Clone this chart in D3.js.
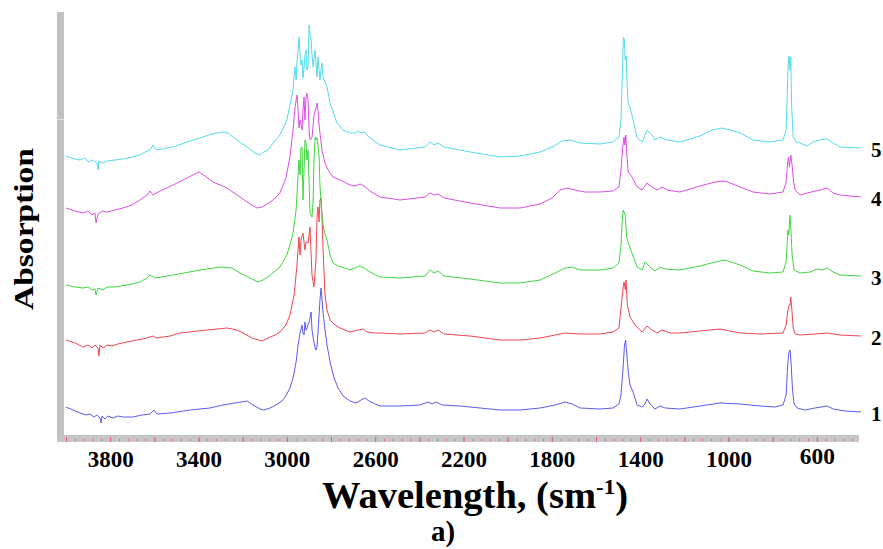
<!DOCTYPE html>
<html>
<head>
<meta charset="utf-8">
<script src="https://cdn.jsdelivr.net/npm/d3@7"></script>
<style>
  html, body { margin: 0; padding: 0; background: #fff; }
  svg { display: block; }
</style>
</head>
<body>
<svg id="chart" width="883" height="549"></svg>
<script>
// FTIR absorption spectra of five samples, 4000–400 cm-1.
// Each value already includes the vertical offset used to stack the traces.

const traceNames = ["1", "2", "3", "4", "5"];
const traceColors = ["#5b5bf0", "#ee4650", "#3fd63f", "#da4ee6", "#52dcea"];

const trace1 = [[4000,0.30],[3968,0.27],[3937,0.24],[3909,0.22],[3891,0.23],[3873,0.20],[3860,0.22],[3846,0.19],[3841,0.14],[3837,0.21],[3823,0.18],[3810,0.21],[3787,0.19],[3765,0.21],[3742,0.20],[3697,0.20],[3656,0.22],[3620,0.23],[3601,0.27],[3588,0.23],[3529,0.24],[3438,0.27],[3348,0.29],[3289,0.32],[3235,0.34],[3180,0.36],[3153,0.32],[3121,0.28],[3104,0.27],[3076,0.29],[3049,0.32],[3022,0.36],[3004,0.41],[2986,0.49],[2972,0.59],[2958,0.75],[2949,0.92],[2940,1.04],[2931,1.12],[2927,1.04],[2922,1.02],[2918,1.15],[2913,1.07],[2909,1.09],[2899,1.15],[2890,1.25],[2886,1.07],[2881,1.00],[2872,0.89],[2868,0.87],[2863,0.91],[2859,1.04],[2850,1.37],[2845,1.49],[2841,1.39],[2836,1.24],[2827,1.07],[2818,0.92],[2804,0.75],[2786,0.59],[2768,0.49],[2745,0.41],[2714,0.36],[2687,0.34],[2664,0.37],[2646,0.39],[2628,0.36],[2600,0.33],[2578,0.31],[2487,0.31],[2397,0.32],[2360,0.35],[2342,0.33],[2324,0.35],[2297,0.32],[2216,0.31],[2125,0.29],[2034,0.27],[1944,0.27],[1853,0.29],[1785,0.32],[1740,0.35],[1708,0.33],[1672,0.29],[1582,0.28],[1523,0.29],[1496,0.33],[1487,0.42],[1478,0.67],[1471,0.92],[1466,0.97],[1462,0.87],[1455,0.67],[1446,0.52],[1432,0.45],[1414,0.32],[1391,0.30],[1378,0.33],[1369,0.38],[1355,0.33],[1333,0.28],[1310,0.31],[1287,0.29],[1220,0.28],[1129,0.31],[1038,0.34],[947,0.33],[857,0.31],[790,0.30],[753,0.32],[739,0.42],[732,0.72],[726,0.85],[721,0.87],[717,0.75],[710,0.47],[703,0.33],[689,0.29],[653,0.27],[608,0.29],[553,0.31],[526,0.28],[472,0.26],[400,0.25]];

const trace2 = [[4000,0.97],[3959,0.94],[3923,0.90],[3900,0.92],[3882,0.89],[3869,0.92],[3855,0.89],[3851,0.81],[3846,0.92],[3832,0.89],[3814,0.92],[3792,0.91],[3765,0.93],[3724,0.95],[3678,0.97],[3633,0.99],[3606,1.01],[3592,0.99],[3529,1.01],[3484,1.04],[3361,1.07],[3271,1.09],[3226,1.07],[3198,1.04],[3158,0.99],[3112,0.96],[3085,0.99],[3053,1.02],[3031,1.05],[3004,1.12],[2986,1.22],[2967,1.42],[2954,1.72],[2945,2.00],[2940,1.82],[2936,1.97],[2927,2.04],[2918,1.87],[2913,1.95],[2904,1.94],[2895,2.10],[2890,1.82],[2886,1.62],[2877,1.50],[2868,1.77],[2863,2.22],[2859,2.30],[2854,2.15],[2850,2.37],[2845,2.39],[2841,2.22],[2836,1.87],[2827,1.42],[2818,1.27],[2804,1.17],[2782,1.12],[2759,1.09],[2714,1.05],[2678,1.07],[2655,1.08],[2637,1.05],[2600,1.04],[2578,1.04],[2487,1.03],[2374,1.04],[2351,1.07],[2333,1.05],[2315,1.07],[2288,1.03],[2170,1.01],[2034,0.97],[1944,0.97],[1853,0.99],[1785,1.02],[1740,1.04],[1672,1.03],[1582,1.03],[1523,1.05],[1496,1.09],[1483,1.37],[1477,1.50],[1473,1.55],[1467,1.47],[1464,1.57],[1458,1.32],[1446,1.20],[1423,1.12],[1391,1.05],[1369,1.11],[1346,1.07],[1324,1.04],[1301,1.07],[1265,1.04],[1220,1.04],[1129,1.06],[1038,1.08],[947,1.04],[857,1.03],[753,1.04],[739,1.12],[732,1.25],[726,1.32],[721,1.32],[718,1.40],[713,1.27],[707,1.09],[698,1.03],[676,1.02],[608,1.03],[553,1.04],[495,1.02],[400,1.01]];

const trace3 = [[4000,1.52],[3959,1.50],[3923,1.49],[3900,1.50],[3882,1.47],[3869,1.48],[3864,1.42],[3855,1.49],[3832,1.47],[3814,1.50],[3778,1.50],[3724,1.52],[3665,1.55],[3633,1.59],[3620,1.62],[3597,1.59],[3515,1.62],[3393,1.67],[3303,1.70],[3249,1.69],[3212,1.64],[3167,1.59],[3130,1.55],[3108,1.57],[3085,1.60],[3053,1.66],[3031,1.70],[3000,1.82],[2986,1.92],[2972,2.04],[2958,2.27],[2949,2.62],[2945,2.77],[2940,2.62],[2936,2.89],[2931,2.90],[2927,2.37],[2922,2.67],[2918,2.97],[2913,2.94],[2909,2.77],[2904,2.87],[2899,2.52],[2895,2.24],[2886,2.20],[2881,2.37],[2877,2.77],[2872,3.00],[2868,2.97],[2863,2.99],[2859,2.92],[2854,2.80],[2850,2.52],[2841,2.20],[2832,2.07],[2818,1.97],[2804,1.82],[2791,1.74],[2768,1.71],[2736,1.69],[2714,1.67],[2691,1.69],[2673,1.71],[2650,1.69],[2623,1.65],[2578,1.60],[2487,1.59],[2374,1.61],[2351,1.67],[2333,1.64],[2315,1.66],[2288,1.61],[2170,1.58],[2034,1.54],[1944,1.54],[1853,1.57],[1785,1.64],[1740,1.69],[1708,1.70],[1672,1.67],[1582,1.67],[1523,1.69],[1496,1.74],[1487,1.92],[1481,2.17],[1477,2.27],[1473,2.25],[1468,2.22],[1461,2.00],[1454,1.94],[1437,1.84],[1414,1.70],[1391,1.67],[1378,1.75],[1355,1.70],[1333,1.66],[1310,1.70],[1287,1.68],[1220,1.67],[1129,1.71],[1061,1.75],[1016,1.77],[947,1.72],[889,1.66],[812,1.64],[753,1.65],[739,1.75],[731,2.07],[727,2.02],[722,2.22],[718,2.10],[712,1.82],[703,1.67],[676,1.64],[630,1.65],[599,1.68],[576,1.67],[553,1.69],[526,1.65],[495,1.62],[400,1.61]];

const trace4 = [[4000,2.29],[3959,2.26],[3923,2.24],[3900,2.26],[3882,2.22],[3869,2.24],[3864,2.14],[3855,2.23],[3837,2.26],[3814,2.25],[3778,2.27],[3742,2.29],[3701,2.32],[3665,2.37],[3633,2.42],[3620,2.46],[3606,2.42],[3574,2.46],[3515,2.52],[3452,2.59],[3416,2.63],[3398,2.65],[3370,2.61],[3334,2.55],[3271,2.49],[3212,2.40],[3167,2.33],[3135,2.29],[3112,2.30],[3090,2.33],[3062,2.37],[3031,2.44],[3004,2.59],[2986,2.80],[2972,3.07],[2963,3.29],[2958,3.37],[2954,3.42],[2949,3.27],[2945,3.09],[2940,3.17],[2931,3.07],[2927,3.27],[2922,3.40],[2918,3.17],[2913,3.40],[2909,3.44],[2904,3.37],[2899,3.07],[2895,2.97],[2886,2.99],[2877,3.22],[2868,3.29],[2863,3.34],[2859,3.27],[2854,3.12],[2850,3.04],[2841,2.87],[2827,2.74],[2813,2.67],[2791,2.60],[2759,2.57],[2714,2.52],[2691,2.51],[2668,2.53],[2650,2.51],[2623,2.46],[2578,2.40],[2487,2.37],[2374,2.40],[2351,2.44],[2333,2.42],[2315,2.43],[2288,2.39],[2170,2.34],[2034,2.29],[1944,2.29],[1853,2.33],[1799,2.39],[1763,2.47],[1731,2.49],[1695,2.47],[1650,2.45],[1582,2.45],[1523,2.46],[1496,2.50],[1487,2.67],[1479,2.90],[1473,3.00],[1469,2.92],[1465,3.02],[1461,2.84],[1454,2.65],[1437,2.60],[1414,2.50],[1391,2.47],[1369,2.54],[1346,2.50],[1324,2.47],[1301,2.50],[1278,2.47],[1220,2.45],[1129,2.51],[1061,2.55],[1016,2.56],[947,2.50],[889,2.45],[812,2.43],[753,2.45],[739,2.55],[732,2.75],[728,2.80],[724,2.70],[718,2.82],[712,2.72],[705,2.55],[698,2.47],[676,2.42],[644,2.44],[585,2.47],[553,2.49],[526,2.44],[495,2.42],[400,2.40]];

const trace5 = [[4000,2.81],[3959,2.78],[3937,2.77],[3914,2.79],[3900,2.75],[3878,2.77],[3860,2.74],[3855,2.67],[3851,2.76],[3832,2.74],[3814,2.76],[3778,2.77],[3742,2.78],[3697,2.80],[3665,2.82],[3642,2.85],[3620,2.87],[3606,2.92],[3592,2.87],[3515,2.90],[3452,2.95],[3393,2.99],[3339,3.03],[3293,3.05],[3266,3.04],[3244,3.00],[3212,2.95],[3180,2.90],[3144,2.84],[3121,2.82],[3104,2.85],[3085,2.87],[3062,2.94],[3031,3.02],[3000,3.17],[2986,3.32],[2972,3.47],[2967,3.62],[2963,3.70],[2958,3.57],[2954,3.75],[2949,3.87],[2945,4.00],[2940,3.82],[2936,3.72],[2931,3.77],[2927,3.59],[2922,3.69],[2918,3.82],[2913,3.87],[2909,3.67],[2904,3.70],[2899,4.12],[2895,4.02],[2890,3.97],[2886,3.82],[2881,3.70],[2877,3.79],[2872,3.87],[2868,3.72],[2863,3.60],[2859,3.80],[2854,3.67],[2850,3.57],[2845,3.67],[2841,3.74],[2836,3.60],[2827,3.55],[2818,3.50],[2804,3.34],[2786,3.22],[2773,3.14],[2745,3.07],[2714,3.04],[2691,3.04],[2678,3.06],[2664,3.04],[2650,3.05],[2632,3.01],[2610,2.97],[2578,2.92],[2487,2.87],[2374,2.90],[2351,2.95],[2333,2.92],[2315,2.94],[2288,2.90],[2170,2.85],[2034,2.80],[1944,2.81],[1853,2.85],[1799,2.90],[1754,2.96],[1717,2.97],[1672,2.94],[1582,2.93],[1523,2.95],[1496,3.00],[1487,3.17],[1480,3.67],[1476,4.00],[1471,3.97],[1468,3.77],[1463,3.81],[1460,3.57],[1455,3.34],[1446,3.30],[1432,3.17],[1414,2.99],[1391,2.95],[1369,3.07],[1346,3.02],[1333,2.97],[1310,3.00],[1278,2.97],[1220,2.95],[1129,3.01],[1075,3.07],[1029,3.09],[993,3.07],[947,3.04],[889,2.97],[812,2.95],[753,2.97],[739,3.07],[735,3.37],[730,3.72],[726,3.81],[721,3.67],[718,3.80],[714,3.30],[707,3.00],[694,2.95],[676,2.94],[644,2.91],[617,2.95],[585,2.97],[553,2.98],[526,2.94],[495,2.90],[400,2.89]];

const traces = [trace1, trace2, trace3, trace4, trace5];

// Axis ticks (cm-1)
const majorTicks = d3.range(4000, 599, -200);
const minorTicks = d3.range(4000, 439, -40);
const tickLabels = [3800, 3400, 3000, 2600, 2200, 1800, 1400, 1000, 600];

const serif = "'Liberation Serif', 'Times New Roman', serif";
const svg = d3.select("#chart");

const x = d3.scaleLinear().domain([4000, 400]).range([66, 861]);
const y = d3.scaleLinear().domain([0, 4.24]).range([437, 13]);

// Frame: grey bar on the left and along the bottom
svg.append("rect").attr("x", 57).attr("y", 12).attr("width", 7).attr("height", 430).attr("fill", "#c2c2c2");
svg.append("rect").attr("x", 57).attr("y", 119).attr("width", 7).attr("height", 1).attr("fill", "#e2e2e2");
svg.append("rect").attr("x", 57).attr("y", 435).attr("width", 802).attr("height", 7).attr("fill", "#c6c6c6");

// Red ruler ticks inside the bottom bar
const tickColor = "#e8606a";
const gMinor = svg.append("g").attr("transform", "translate(0,439)")
  .call(d3.axisBottom(x).tickValues(minorTicks).tickSize(2).tickFormat(""));
gMinor.select(".domain").remove();
gMinor.selectAll("line").attr("stroke", tickColor);

const gMajor = svg.append("g").attr("transform", "translate(0,437)")
  .call(d3.axisBottom(x).tickValues(majorTicks).tickSize(5).tickFormat(""));
gMajor.select(".domain").remove();
gMajor.selectAll("line").attr("stroke", tickColor);

// Tick labels
const gLab = svg.append("g").attr("transform", "translate(0,442)")
  .call(d3.axisBottom(x).tickValues(tickLabels).tickSize(0).tickFormat(d3.format("d")));
gLab.select(".domain").remove();
gLab.attr("font-family", serif).attr("font-size", 24).attr("font-weight", "bold");
gLab.selectAll("text")
  .attr("fill", "#000")
  .attr("y", 25)
  .attr("dy", d => d === 600 ? -3 : 0)
  .attr("textLength", 46)
  .attr("lengthAdjust", "spacingAndGlyphs");
gLab.selectAll("text").filter(d => d === 600).attr("textLength", 35);

// Spectra
const line = d3.line().x(d => x(d[0])).y(d => y(d[1]));
svg.append("g").selectAll("path")
  .data(traces)
  .join("path")
  .attr("d", line)
  .attr("fill", "none")
  .attr("stroke", (d, i) => traceColors[i])
  .attr("stroke-width", 1)
  .attr("stroke-linejoin", "round");

// Trace numbers at the right end of each spectrum
svg.append("g").selectAll("text")
  .data(traces)
  .join("text")
  .attr("x", 871)
  .attr("y", d => y(d[d.length - 1][1]) + 9)
  .attr("font-family", serif)
  .attr("font-size", 21)
  .attr("font-weight", "bold")
  .attr("fill", "#000")
  .text((d, i) => traceNames[i]);

// Axis titles
svg.append("text")
  .attr("transform", "translate(33,229) rotate(-90)")
  .attr("text-anchor", "middle")
  .attr("font-family", serif)
  .attr("font-size", 28)
  .attr("font-weight", "bold")
  .attr("textLength", 162)
  .attr("lengthAdjust", "spacingAndGlyphs")
  .attr("fill", "#000")
  .text("Absorption");

const xt = svg.append("text")
  .attr("x", 475).attr("y", 508)
  .attr("text-anchor", "middle")
  .attr("font-family", serif)
  .attr("font-size", 37)
  .attr("font-weight", "bold")
  .attr("textLength", 306)
  .attr("lengthAdjust", "spacingAndGlyphs")
  .attr("fill", "#000");
xt.append("tspan").text("Wavelength, (sm");
xt.append("tspan").attr("font-size", 22).attr("dy", -14).text("-1");
xt.append("tspan").attr("dy", 14).text(")");

svg.append("text")
  .attr("x", 443).attr("y", 541)
  .attr("text-anchor", "middle")
  .attr("font-family", serif)
  .attr("font-size", 29)
  .attr("font-weight", "bold")
  .attr("fill", "#000")
  .text("a)");
</script>
</body>
</html>
